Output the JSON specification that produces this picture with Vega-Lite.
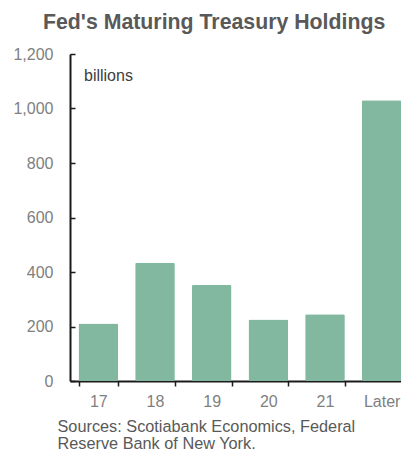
{
  "$schema": "https://vega.github.io/schema/vega-lite/v6.json",
  "autosize": "none",
  "width": 340,
  "height": 327,
  "padding": {"left": 70, "top": 54, "right": 0, "bottom": 71},
  "background": "white",
  "config": {
    "view": {"stroke": null},
    "font": "Liberation Sans"
  },
  "title": {
    "text": "Fed's Maturing Treasury Holdings",
    "font": "Liberation Sans",
    "fontSize": 21.3,
    "fontWeight": "bold",
    "color": "#595959",
    "anchor": "start",
    "frame": "group",
    "dx": -27,
    "offset": 13
  },
  "data": {
    "values": [
      {"period": "17", "value": 211},
      {"period": "18", "value": 434},
      {"period": "19", "value": 352},
      {"period": "20", "value": 226},
      {"period": "21", "value": 245},
      {"period": "Later", "value": 1030}
    ]
  },
  "layer": [
    {
      "mark": {"type": "bar", "color": "#82B8A0", "cornerRadius": 1.5},
      "encoding": {
        "x": {
          "field": "period",
          "type": "ordinal",
          "sort": null,
          "scale": {"paddingInner": 0.3, "paddingOuter": 0.15},
          "axis": {
            "labelAngle": 0,
            "labelFontSize": 16,
            "labelColor": "#7f7f7f",
            "labelPadding": 7,
            "domainColor": "#1a1a1a",
            "domainWidth": 2,
            "tickColor": "#1a1a1a",
            "tickWidth": 1.5,
            "tickSize": 5,
            "tickBand": "extent",
            "title": ["Sources: Scotiabank Economics, Federal", "Reserve Bank of New York."],
            "titleFontSize": 16.3,
            "titleFontWeight": "normal",
            "titleColor": "#595959",
            "titleAnchor": "start",
            "titleAlign": "left",
            "titleBaseline": "alphabetic",
            "titleX": -13,
            "titleY": 50,
            "titleLineHeight": 17
          }
        },
        "y": {
          "field": "value",
          "type": "quantitative",
          "scale": {"domain": [0, 1200], "nice": false},
          "axis": {
            "values": [0, 200, 400, 600, 800, 1000, 1200],
            "format": ",d",
            "grid": false,
            "title": null,
            "labelFontSize": 16,
            "labelColor": "#808080",
            "domainColor": "#1a1a1a",
            "domainWidth": 2,
            "tickColor": "#1a1a1a",
            "tickWidth": 1.5,
            "tickSize": -5,
            "labelPadding": 22
          }
        }
      }
    },
    {
      "data": {"values": [{"label": "billions", "x": "17", "y": 1120}]},
      "mark": {"type": "text", "align": "left", "baseline": "middle", "fontSize": 16, "color": "#404040", "dx": 5.5},
      "encoding": {
        "x": {"field": "x", "type": "ordinal", "sort": null, "bandPosition": 0},
        "y": {"field": "y", "type": "quantitative"},
        "text": {"field": "label"}
      }
    }
  ]
}
